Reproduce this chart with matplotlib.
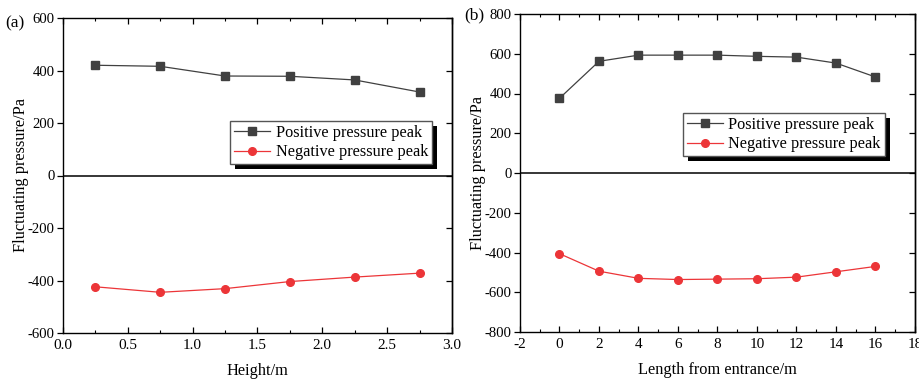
import matplotlib
matplotlib.use("Agg")
import matplotlib.pyplot as plt
from matplotlib.ticker import MultipleLocator
from matplotlib.patches import Rectangle

plt.rcParams['font.family'] = ['Liberation Serif', 'DejaVu Serif']
plt.rcParams['axes.unicode_minus'] = False

# Panel (a): pressure peaks versus height
height = [0.25, 0.75, 1.25, 1.75, 2.25, 2.75]
pos_height = [420, 416, 379, 378, 364, 318]
neg_height = [-424, -445, -431, -404, -387, -372]

# Panel (b): pressure peaks versus distance from entrance
length = [0, 2, 4, 6, 8, 10, 12, 14, 16]
pos_length = [376, 562, 593, 593, 593, 587, 583, 553, 483]
neg_length = [-406, -494, -530, -536, -534, -532, -524, -497, -470]

series_labels = ["Positive pressure peak", "Negative pressure peak"]
pos_color = "#404040"
neg_color = "#ec3538"

W, H = 920, 379
fig = plt.figure(figsize=(W / 100, H / 100), dpi=100)


def px_axes(x0, y0, x1, y1):
    return fig.add_axes([x0 / W, 1 - y1 / H, (x1 - x0) / W, (y1 - y0) / H])


def style_axes(ax, xmajor, ymajor, xminor):
    ax.xaxis.set_major_locator(MultipleLocator(xmajor))
    ax.xaxis.set_minor_locator(MultipleLocator(xminor))
    ax.yaxis.set_major_locator(MultipleLocator(ymajor))
    # x ticks point inward on both bottom and top, with minor ticks
    ax.tick_params(axis='x', which='both', direction='in', top=True,
                   bottom=True, labelsize=11, pad=4)
    ax.tick_params(axis='x', which='major', length=4.5, width=0.9)
    ax.tick_params(axis='x', which='minor', length=2.5, width=0.8)
    # left y ticks point outward
    ax.tick_params(axis='y', which='major', direction='out', left=True,
                   right=False, length=4, width=0.9, labelsize=10.6, pad=2)
    # right side: inward ticks without labels
    sec = ax.secondary_yaxis('right')
    sec.yaxis.set_major_locator(MultipleLocator(ymajor))
    sec.tick_params(axis='y', direction='in', length=4, width=0.9,
                    labelright=False)
    sec.spines['right'].set_linewidth(1.0)
    for s in ax.spines.values():
        s.set_linewidth(1.0)
    ax.axhline(0, color='black', lw=1.1, zorder=1)


legends = []


def draw(ax, x, pos, neg, legend_px):
    ax.plot(x, pos, color=pos_color, lw=0.9, marker='s', ms=5.5,
            label=series_labels[0], zorder=3)
    ax.plot(x, neg, color=neg_color, lw=0.9, marker='o', ms=5.5,
            label=series_labels[1], zorder=3)
    lx, ly = legend_px
    leg = ax.legend(loc='upper left', bbox_to_anchor=(lx / W, 1 - ly / H),
                    bbox_transform=fig.transFigure, fontsize=11.7,
                    frameon=True, fancybox=False, framealpha=1,
                    borderpad=0.25, labelspacing=0.2, handlelength=2.2,
                    handletextpad=0.35, borderaxespad=0)
    leg.get_frame().set_edgecolor('#555555')
    leg.get_frame().set_linewidth(1.0)
    legends.append((ax, leg))


# Panel (a)
ax1 = px_axes(63, 18, 452, 333)
draw(ax1, height, pos_height, neg_height, (230, 121))
ax1.set_xlim(0, 3.0)
ax1.set_ylim(-600, 600)
style_axes(ax1, 0.5, 200, 0.25)
ax1.set_xticklabels([f"{v:.1f}" for v in ax1.get_xticks()])
ax1.set_xlabel("Height/m", fontsize=11.8, labelpad=8)
ax1.set_ylabel("Fluctuating pressure/Pa", fontsize=11.8, labelpad=-1)
fig.text(5 / W, 1 - 23 / H, "(a)", fontsize=12.5, va='center', ha='left')

# Panel (b)
ax2 = px_axes(520, 14, 915, 332)
draw(ax2, length, pos_length, neg_length, (683, 113))
ax2.set_xlim(-2, 18)
ax2.set_ylim(-800, 800)
style_axes(ax2, 2, 200, 1)
ax2.set_xlabel("Length from entrance/m", fontsize=11.8, labelpad=8)
ax2.set_ylabel("Fluctuating pressure/Pa", fontsize=11.8, labelpad=-1)
fig.text(464 / W, 1 - 15 / H, "(b)", fontsize=12.5, va='center', ha='left')

# Solid black drop shadow behind each legend box; the legend is then
# re-attached to the figure so it is drawn above the shadow
fig.canvas.draw()
for ax, leg in legends:
    bb = leg.get_frame().get_window_extent()
    off = 5
    fig.patches.append(Rectangle((bb.x0 + off, bb.y0 - off), bb.width, bb.height,
                                 transform=None, facecolor='black',
                                 edgecolor='none', zorder=5, figure=fig))
    leg.remove()
    fig.legends.append(leg)
    leg.set_figure(fig)

fig.savefig("out.png", dpi=100)
